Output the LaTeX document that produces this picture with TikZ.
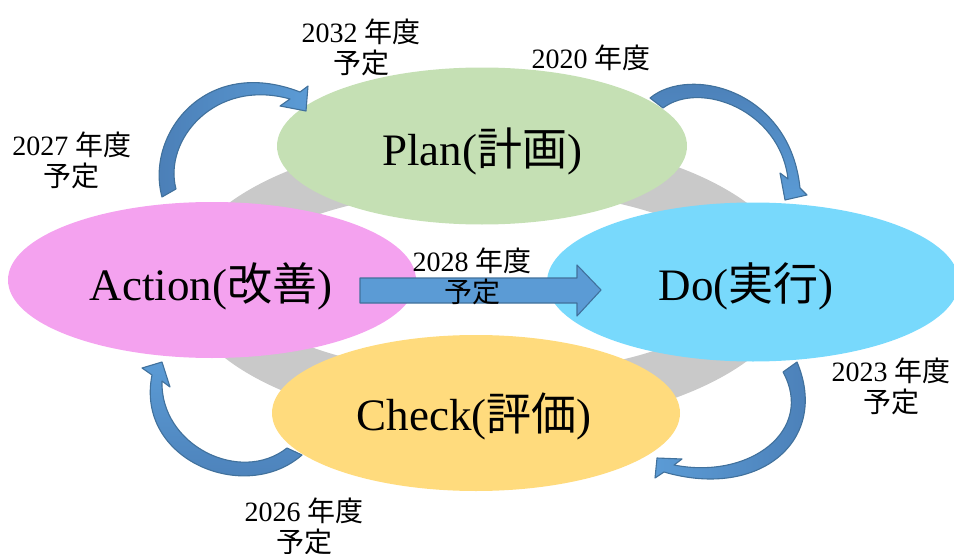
\documentclass[tikz,border=0pt]{standalone}
\usepackage{fontspec}
\setmainfont{Liberation Serif}
\newfontfamily\jp{Noto Sans CJK JP}
\usetikzlibrary{shapes.geometric}
\definecolor{ringgrey}{HTML}{C9C9C9}
\definecolor{plangreen}{HTML}{C5E0B4}
\definecolor{actpink}{HTML}{F4A2EF}
\definecolor{doblue}{HTML}{78D9FC}
\definecolor{chkyellow}{HTML}{FFDB7D}
\definecolor{arrlight}{HTML}{5B9BD5}
\definecolor{arrdark}{HTML}{41719C}
\definecolor{arrmid}{HTML}{4A7DB5}
\tikzset{
  phase/.style={ellipse, inner sep=0pt, minimum width=410pt, minimum height=157pt},
  big/.style={font=\fontsize{45}{50}\selectfont, inner sep=0pt, anchor=base},
  lbl/.style={font=\fontsize{28}{31}\selectfont, inner sep=0pt, align=center},
  carrow/.style={draw=arrdark, line width=1.1pt, line join=round},
}
\begin{document}
\begin{tikzpicture}[x=1pt,y=-1pt]
\useasboundingbox (0,0) rectangle (954,554);
% grey ring
\fill[ringgrey, even odd rule] (488,282) ellipse [x radius=308, y radius=146]
      (488,282) ellipse [x radius=250, y radius=92];
% phases
\node[phase, fill=plangreen] (plan) at (482,146) {};
\node[phase, fill=actpink, minimum width=408pt, minimum height=156pt] (act) at (212,280) {};
\node[phase, fill=doblue, minimum width=412pt, minimum height=159pt] (do) at (753,282) {};
\node[phase, fill=chkyellow, minimum width=408pt, minimum height=156pt] (chk) at (476,413) {};
% straight arrow
\draw[carrow, fill=arrlight] (360,278) -- (577,278) -- (577,265) -- (601,290) -- (577,316) -- (577,303) -- (360,303) -- cycle;
% curved arrows
\draw[carrow, left color=arrmid, right color=arrlight]
  (162,197) .. controls (145,135) and (205,55) .. (300,92) -- (308,86) -- (306,111) -- (280,106) -- (290,99)
  .. controls (215,78) and (163,140) .. (176,189) -- cycle;
\draw[carrow, top color=arrmid, bottom color=arrlight]
  (650,98) .. controls (690,65) and (790,90) .. (800,188) -- (807,195) -- (785,200) -- (780,173) -- (788,179)
  .. controls (780,110) and (700,80) .. (663,108) -- cycle;
\draw[carrow, left color=arrlight, right color=arrmid]
  (797,362) .. controls (830,440) and (760,500) .. (664,472) -- (655,478) -- (657,458) -- (682,459) -- (674,465)
  .. controls (750,480) and (815,430) .. (783,372) -- cycle;
\draw[carrow, top color=arrlight, bottom color=arrmid]
  (302,455) .. controls (245,505) and (135,460) .. (152,375) -- (142,368) -- (162,362) -- (170,387) -- (162,381)
  .. controls (160,445) and (240,485) .. (287,448) -- cycle;
% phase texts
\node[big] (plant) at (482,165) {Plan({\jp 計画})};
\node[big] (actt) at (211,300) {Action({\jp 改善})};
\node[big] (dot) at (746,300) {Do({\jp 実行})};
\node[big] (chkt) at (474,430) {Check({\jp 評価})};
% year labels
\node[lbl] (l2032) at (361,47) {2032 {\jp 年度}\\{\jp 予定}};
\node[lbl] (l2020) at (591,58) {2020 {\jp 年度}};
\node[lbl] (l2027) at (72,160) {2027 {\jp 年度}\\{\jp 予定}};
\node[lbl] (l2028) at (472,276) {2028 {\jp 年度}\\{\jp 予定}};
\node[lbl] (l2023) at (891,386) {2023 {\jp 年度}\\{\jp 予定}};
\node[lbl] (l2026) at (304,526) {2026 {\jp 年度}\\{\jp 予定}};
\end{tikzpicture}
\end{document}
